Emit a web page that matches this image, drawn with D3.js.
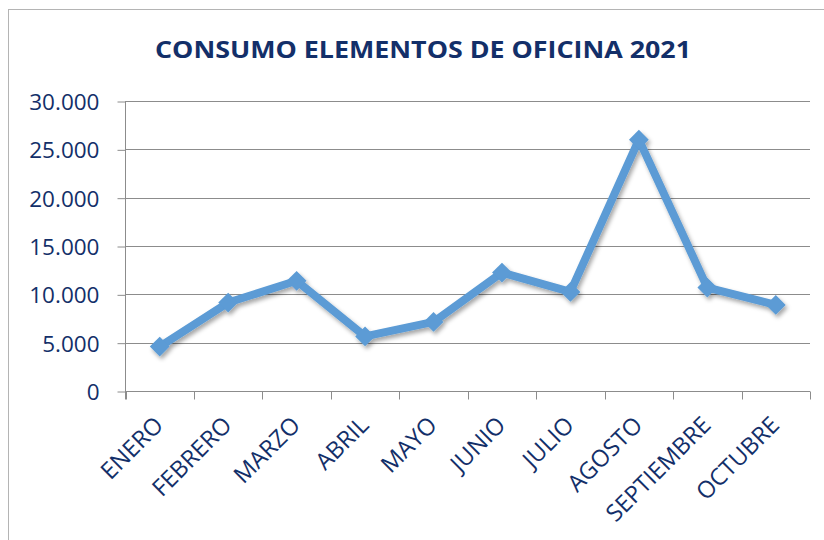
<!DOCTYPE html>
<html>
<head>
<meta charset="utf-8">
<script src="https://cdnjs.cloudflare.com/ajax/libs/d3/7.8.5/d3.min.js"></script>
<style>
    body { margin: 0; background: #fff; }
    text { font-family: "Open Sans", "Noto Sans", sans-serif; }
</style>
</head>
<body>
<div id="chart"></div>
<script>
    // data
    var months = ["ENERO", "FEBRERO", "MARZO", "ABRIL", "MAYO", "JUNIO", "JULIO", "AGOSTO", "SEPTIEMBRE", "OCTUBRE"];
    var consumo = [4600, 9150, 11400, 5650, 7150, 12250, 10250, 26000, 10700, 8900];
    var yTicks = [0, 5000, 10000, 15000, 20000, 25000, 30000];
    var title = "CONSUMO ELEMENTOS DE OFICINA 2021";

    var navy = "#132f69", grid = "#8c8c8c", blue = "#5b9bd5";

    var width = 824, height = 540;
    var margin = {top: 101, right: 14, bottom: 149, left: 125.5};

    var svg = d3.select("#chart").append("svg")
        .attr("width", width)
        .attr("height", height);

    // drop shadow like the spreadsheet style
    var f = svg.append("defs").append("filter")
        .attr("id", "shadow")
        .attr("x", "-20%").attr("y", "-20%")
        .attr("width", "140%").attr("height", "140%");
    f.append("feDropShadow")
        .attr("dx", 2).attr("dy", 3)
        .attr("stdDeviation", 2)
        .attr("flood-color", "#000")
        .attr("flood-opacity", 0.35);

    // chart border
    svg.append("rect")
        .attr("x", 8.5).attr("y", 9.5)
        .attr("width", 830).attr("height", 540)
        .attr("fill", "#fff")
        .attr("stroke", "#b4b4b4");

    svg.append("text")
        .attr("x", 423).attr("y", 58)
        .attr("text-anchor", "middle")
        .attr("font-size", 24)
        .attr("font-weight", "bold")
        .attr("fill", navy)
        .attr("textLength", 536)
        .attr("lengthAdjust", "spacingAndGlyphs")
        .text(title);

    var x = d3.scaleBand()
        .domain(months)
        .range([margin.left, width - margin.right]);
    var y = d3.scaleLinear()
        .domain([0, 30000])
        .range([height - margin.bottom, margin.top]);

    var loc = d3.formatLocale({decimal: ",", thousands: ".", grouping: [3], currency: ["$", ""]});
    var fmt = loc.format(",d");

    // gridlines
    svg.append("g").selectAll("line")
        .data(yTicks.slice(1))
        .enter().append("line")
        .attr("x1", margin.left).attr("x2", width - margin.right)
        .attr("y1", function(d) { return Math.round(y(d)) + 0.5; })
        .attr("y2", function(d) { return Math.round(y(d)) + 0.5; })
        .attr("stroke", grid);

    // y axis
    var yAxis = svg.append("g")
        .attr("transform", "translate(" + margin.left + ",0.5)")
        .call(d3.axisLeft(y).tickValues(yTicks).tickFormat(fmt).tickSize(8).tickPadding(18));
    yAxis.select(".domain").attr("stroke", grid).attr("d", "M0," + (y(30000) - 0.5) + "V" + (y(0) + 8));
    yAxis.selectAll(".tick line").attr("stroke", grid);
    yAxis.selectAll(".tick text").attr("fill", navy).attr("font-size", 22.5).attr("dy", "0.36em");

    // x axis, ticks on band boundaries
    var xAxis = svg.append("g")
        .attr("transform", "translate(0," + (Math.round(y(0)) + 0.5) + ")");
    xAxis.append("line")
        .attr("x1", margin.left).attr("x2", width - margin.right)
        .attr("stroke", grid);
    xAxis.selectAll(".tk")
        .data(months.concat(["end"]))
        .enter().append("line")
        .attr("class", "tk")
        .attr("x1", function(d, i) { return Math.round(margin.left + i * x.step()) + 0.5; })
        .attr("x2", function(d, i) { return Math.round(margin.left + i * x.step()) + 0.5; })
        .attr("y2", 8)
        .attr("stroke", grid);
    xAxis.selectAll(".lbl")
        .data(months)
        .enter().append("text")
        .attr("class", "lbl")
        .attr("text-anchor", "end")
        .attr("font-size", 23.5)
        .attr("fill", navy)
        .attr("transform", function(d) {
            return "translate(" + (x(d) + x.bandwidth() / 2 + 5) + ",35) rotate(-45)";
        })
        .text(function(d) { return d; });

    // series
    var line = d3.line()
        .x(function(d, i) { return x(months[i]) + x.bandwidth() / 2; })
        .y(function(d) { return y(d); });

    var series = svg.append("g").attr("filter", "url(#shadow)");
    series.append("path")
        .datum(consumo)
        .attr("d", line)
        .attr("fill", "none")
        .attr("stroke", blue)
        .attr("stroke-width", 8)
        .attr("stroke-linejoin", "round");

    series.selectAll(".pt")
        .data(consumo)
        .enter().append("path")
        .attr("class", "pt")
        .attr("d", d3.symbol().type(d3.symbolDiamond2).size(250))
        .attr("transform", function(d, i) {
            return "translate(" + (x(months[i]) + x.bandwidth() / 2) + "," + y(d) + ")";
        })
        .attr("fill", blue);
</script>
</body>
</html>
